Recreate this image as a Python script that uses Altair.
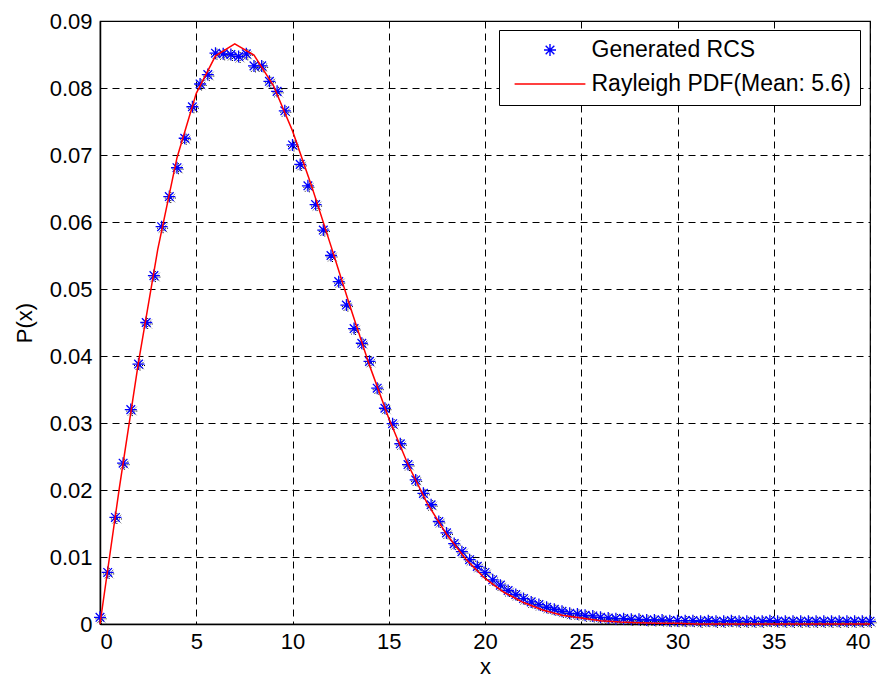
import altair as alt
import pandas as pd

# ---- data ----
star_x = [round(0.4 * i, 1) for i in range(101)]
star_y = [
    0.0010, 0.0077, 0.0159, 0.0240, 0.0320, 0.0388, 0.0450, 0.0520, 0.0593, 0.0638,
    0.0681, 0.0725, 0.0772, 0.0806, 0.0820, 0.0852, 0.0851, 0.0850, 0.0847, 0.0851,
    0.0833, 0.0833, 0.0810, 0.0795, 0.0766, 0.0715, 0.0686, 0.0654, 0.0626, 0.0588,
    0.0550, 0.0511, 0.0476, 0.0441, 0.0419, 0.0392, 0.0352, 0.0322, 0.0299, 0.0269,
    0.0238, 0.0215, 0.0195, 0.0178, 0.0153, 0.0136, 0.0120, 0.0108, 0.0096, 0.0086,
    0.0077, 0.0066, 0.0058, 0.0050, 0.0044, 0.0038, 0.0033, 0.0029, 0.0025, 0.0022,
    0.0019, 0.0016, 0.0015, 0.0013, 0.0012, 0.0010, 0.0009, 0.0008, 0.0008, 0.0007,
    0.0007, 0.0006, 0.0006, 0.0006, 0.0005, 0.0005, 0.0005, 0.0005, 0.0004, 0.0005,
    0.0004, 0.0004, 0.0005, 0.0004, 0.0004, 0.0004, 0.0004, 0.0005, 0.0004, 0.0004,
    0.0004, 0.0004, 0.0004, 0.0004, 0.0004, 0.0004, 0.0004, 0.0004, 0.0004, 0.0004,
    0.0004,
]
pdf_x = list(range(0, 41))
pdf_y = [
    0.0000, 0.0202, 0.0391, 0.0559, 0.0696, 0.0792, 0.0848, 0.0866, 0.0849, 0.0804,
    0.0736, 0.0653, 0.0564, 0.0473, 0.0386, 0.0307, 0.0238, 0.0180, 0.0134, 0.0097,
    0.0068, 0.0047, 0.0032, 0.0021, 0.0013, 0.0009, 0.0005, 0.0003, 0.0002, 0.0001,
    0.0001, 0.0000, 0.0000, 0.0000, 0.0000, 0.0000, 0.0000, 0.0000, 0.0000, 0.0000,
    0.0000,
]
series_names = ["Generated RCS", "Rayleigh PDF(Mean: 5.6)"]
x_ticks = [0, 5, 10, 15, 20, 25, 30, 35, 40]
y_ticks = [0, 0.01, 0.02, 0.03, 0.04, 0.05, 0.06, 0.07, 0.08, 0.09]

# ---- marker shapes ----
ASTERISK = "M-1,0L1,0M0,-1L0,1M-0.72,-0.72L0.72,0.72M-0.72,0.72L0.72,-0.72"
SHADOW = "M-0.75,0.25L1.25,0.25M0.25,-0.75L0.25,1.25M-0.47,-0.47L0.97,0.97M-0.47,0.97L0.97,-0.47"
LEGEND_LINE = "M-5.9,0L5.9,0"

FONT = "Liberation Sans"

stars = pd.DataFrame({"x": star_x, "y": star_y, "series": series_names[0]})
pdf = pd.DataFrame({"x": pdf_x, "y": pdf_y, "series": series_names[1]})

xscale = alt.Scale(domain=[0, 40], nice=False, zero=False)
yscale = alt.Scale(domain=[0, 0.09], nice=False, zero=False)

xaxis = alt.Axis(values=x_ticks, format="d", title="x", labelPadding=7, titlePadding=4)
yaxis = alt.Axis(
    values=y_ticks,
    labelExpr="datum.value == 0 ? '0' : format(datum.value, '.2f')",
    title="P(x)",
    labelPadding=8,
    titlePadding=13,
)

legend = alt.Legend(
    title=None,
    orient="none",
    legendX=399,
    legendY=9,
    padding=8.5,
    strokeColor="black",
    fillColor="white",
    labelFont=FONT,
    labelFontSize=23,
    labelColor="black",
    labelLimit=600,
    symbolSize=144,
    symbolStrokeWidth=1.4,
    symbolOffset=31,
    labelOffset=30,
    rowPadding=10,
    cornerRadius=0,
)

shadow = alt.Chart(stars).mark_point(
    shape=SHADOW, filled=False, color="black", strokeWidth=1, strokeDash=[1, 1],
    size=144, opacity=1,
).encode(
    x=alt.X("x:Q", scale=xscale, axis=xaxis),
    y=alt.Y("y:Q", scale=yscale, axis=yaxis),
)

points = alt.Chart(stars).mark_point(
    filled=False, size=144, strokeWidth=1.3, opacity=1,
).encode(
    x=alt.X("x:Q", scale=xscale),
    y=alt.Y("y:Q", scale=yscale),
    color=alt.Color(
        "series:N",
        scale=alt.Scale(domain=series_names, range=["#0000ff", "#ff0000"]),
        legend=legend,
    ),
    shape=alt.Shape(
        "series:N",
        scale=alt.Scale(domain=series_names, range=[ASTERISK, LEGEND_LINE]),
        legend=legend,
    ),
)

line = alt.Chart(pdf).mark_line(color="#ff0000", strokeWidth=1.5).encode(
    x=alt.X("x:Q", scale=xscale),
    y=alt.Y("y:Q", scale=yscale),
)

chart = (
    alt.layer(shadow, points, line)
    .properties(
        width=770,
        height=603,
        autosize=alt.AutoSizeParams(type="none"),
        padding={"left": 92, "top": 13, "right": 7, "bottom": 56},
        background="white",
    )
    .configure_view(stroke="black", strokeWidth=1.2)
    .configure_axis(
        grid=True,
        gridColor="black",
        gridDash=[7, 5],
        gridWidth=1,
        gridOpacity=1,
        domainColor="black",
        domainWidth=1.5,
        ticks=False,
        labelFont=FONT,
        labelFontSize=22,
        labelColor="black",
        titleFont=FONT,
        titleFontSize=22,
        titleFontWeight="normal",
        titleColor="black",
    )
)

chart.save("out.html", embed_options={"renderer": "svg", "actions": False})
